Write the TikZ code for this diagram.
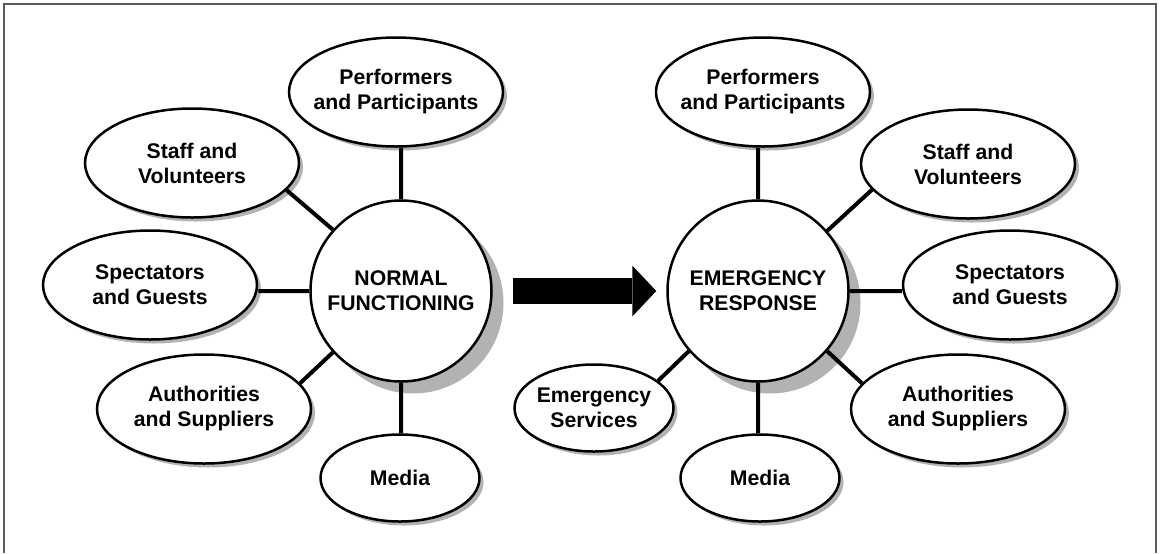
\documentclass[tikz,border=0pt]{standalone}
\usepackage{fontspec}
\setmainfont{Liberation Sans}
\usetikzlibrary{arrows.meta,positioning,shapes.geometric,shadows}

\newcommand{\twolines}[2]{\makebox[0pt]{#1}\\\makebox[0pt]{#2}}

\begin{document}
\begin{tikzpicture}[x=0.5pt,y=-0.5pt]
  \tikzstyle{every node} = [font=\fontsize{10.6}{12.5}\selectfont\bfseries,align=center]
  \tikzstyle{group} = [ellipse,draw,line width=1.25pt,fill=white,inner sep=0pt,
    minimum width=107pt,minimum height=54.5pt,
    drop shadow={shadow xshift=2pt,shadow yshift=-2pt,fill=black!30,opacity=1}]
  \tikzstyle{small group} = [group,minimum width=79.5pt,minimum height=43.5pt]
  \tikzstyle{hub} = [circle,draw,line width=1.25pt,fill=white,minimum size=90.5pt,
    drop shadow={shadow xshift=6pt,shadow yshift=-6pt,fill=black!30,opacity=1}]
  \tikzstyle{link} = [line width=2pt]

  \useasboundingbox (0,0) rectangle (1160,553);
  \draw[black!65,line width=0.75pt] (4,553) |- (1156,4) -- (1156,553);

  \node[hub] (nf) at (401,291) {NORMAL\\FUNCTIONING};
  \node[group] (perfL) at (396,92) {\twolines{Performers}{and Participants}};
  \node[group] (staffL) at (192,163) {\twolines{Staff and}{Volunteers}};
  \node[group] (specL) at (150,285) {\twolines{Spectators}{and Guests}};
  \node[group] (authL) at (204,409) {\twolines{Authorities}{and Suppliers}};
  \node[small group] (mediaL) at (400,478) {Media};

  \node[hub] (nr) at (758,291) {EMERGENCY\\RESPONSE};
  \node[group] (perfR) at (763,92) {\twolines{Performers}{and Participants}};
  \node[group] (staffR) at (968,164) {\twolines{Staff and}{Volunteers}};
  \node[group] (specR) at (1010,285) {\twolines{Spectators}{and Guests}};
  \node[group] (authR) at (958,409) {\twolines{Authorities}{and Suppliers}};
  \node[small group] (mediaR) at (760,478) {Media};
  \node[small group] (esR) at (594,408) {\twolines{Emergency}{Services}};

  \draw[link] (nf.north) -- (nf.north |- perfL.south)
    (nf.138) -- (staffL.-16)
    (nf.west) -- (nf.west -| specL.east)
    (nf.-138) -- (authL.15)
    (nf.south) -- (nf.south |- mediaL.north);
  \draw[link] (nr.north) -- (nr.north |- perfR.south)
    (nr.41) -- (staffR.195)
    (nr.east) -- (nr.east -| specR.west)
    (nr.-41) -- (authR.165)
    (nr.south) -- (nr.south |- mediaR.north)
    (nr.-139) -- (esR.23);

  \draw[line width=13pt,-{Triangle[length=12pt,width=25.5pt,line width=0pt]},
    shorten <=10pt,shorten >=5pt] (nf) -- (nr);
\end{tikzpicture}
\end{document}
